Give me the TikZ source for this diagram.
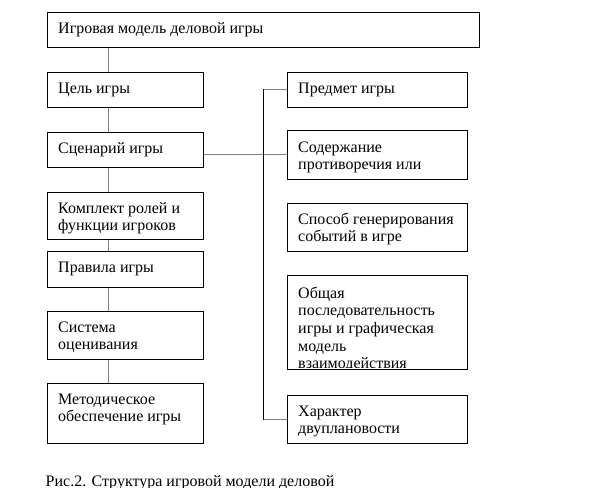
\documentclass[tikz,border=0pt]{standalone}
\usepackage{fontspec}
\setmainfont{Liberation Serif}
\usetikzlibrary{calc}
\newcommand\fs{\fontsize{16bp}{17.6bp}\selectfont}
\newcommand\st{\vrule width0pt height13bp depth4.6bp}
\begin{document}
\begin{tikzpicture}[x=1bp,y=-1bp,
  box/.style={draw=black, line width=1bp, fill=white, inner sep=0pt, anchor=north west, rectangle},
  txt/.style={anchor=north west, inner sep=0pt, align=left, font=\fs, xshift=11bp, yshift=-8bp},
  conn/.style={draw=black!50, line width=1bp},
  vconn/.style={draw=black, line width=1bp}]
\useasboundingbox (0,0) rectangle (612,504);
% left column
\node[box, minimum width=432bp, minimum height=35bp] (top) at (47,12) {};
\node[box, minimum width=156bp, minimum height=35bp] (goal) at (47,72) {};
\node[box, minimum width=156bp, minimum height=35bp] (scen) at (47,132) {};
\node[box, minimum width=156bp, minimum height=47bp] (roles) at (47,192) {};
\node[box, minimum width=156bp, minimum height=36bp] (rules) at (47,251) {};
\node[box, minimum width=156bp, minimum height=48bp] (eval) at (47,311) {};
\node[box, minimum width=156bp, minimum height=60bp] (meth) at (47,383) {};
% right column
\node[box, minimum width=180bp, minimum height=35bp] (subj) at (287,72) {};
\node[box, minimum width=180bp, minimum height=49bp] (cont) at (287,130) {};
\node[box, minimum width=180bp, minimum height=48bp] (gen) at (287,203) {};
\node[box, minimum width=180bp, minimum height=94bp] (seq) at (287,275) {};
\node[box, minimum width=180bp, minimum height=48bp] (dual) at (287,395) {};
% texts
\node[txt] (ttop) at (top.north west) {\st Игровая модель деловой игры};
\node[txt] (tgoal) at (goal.north west) {\st Цель игры};
\node[txt] (tscen) at (scen.north west) {\st Сценарий игры};
\node[txt] (troles) at (roles.north west) {\st Комплект ролей и\\\st функции игроков};
\node[txt] (trules) at (rules.north west) {\st Правила игры};
\node[txt] (teval) at (eval.north west) {\st Система\\\st оценивания};
\node[txt] (tmeth) at (meth.north west) {\st Методическое\\\st обеспечение игры};
\node[txt] (tsubj) at (subj.north west) {\st Предмет игры};
\node[txt, yshift=-1bp] (tcont) at (cont.north west) {\st Содержание\\\st противоречия или};
\node[txt] (tgen) at (gen.north west) {\st Способ генерирования\\\st событий в игре};
\begin{scope}
\clip ($(seq.north west)+(1,1)$) rectangle ($(seq.south east)+(-1,-3)$);
\node[txt, yshift=-2bp] (tseq) at (seq.north west) {\st Общая\\\st последовательность\\\st игры и графическая\\\st модель\\\st взаимодействия};
\end{scope}
\node[txt] (tdual) at (dual.north west) {\st Характер\\\st двуплановости};
% connectors
\coordinate (lx) at (108,0);
\coordinate (rx) at (263,0);
\draw[conn] (top.south -| lx) -- (goal.north -| lx);
\draw[conn] (goal.south -| lx) -- (scen.north -| lx);
\draw[conn] (scen.south -| lx) -- (roles.north -| lx);
\draw[conn] (roles.south -| lx) -- (rules.north -| lx);
\draw[conn] (rules.south -| lx) -- (eval.north -| lx);
\draw[conn] (eval.south -| lx) -- (meth.north -| lx);
\draw[conn] (scen.east |- cont.west) -- (cont.west);
\draw[conn] (subj.west -| rx) -- (subj.west);
\draw[conn] (dual.west -| rx) -- (dual.west);
\draw[vconn] ($(subj.west -| rx)+(0,-0.5)$) -- ($(dual.west -| rx)+(0,0.5)$);
% caption
\begin{scope}
\clip (0,460) rectangle (612,487);
\node[anchor=base west, inner sep=0pt, font=\fs] (cap) at (45.5,486) {Рис.2. Структура игровой модели деловой};
\end{scope}
\end{tikzpicture}
\end{document}
